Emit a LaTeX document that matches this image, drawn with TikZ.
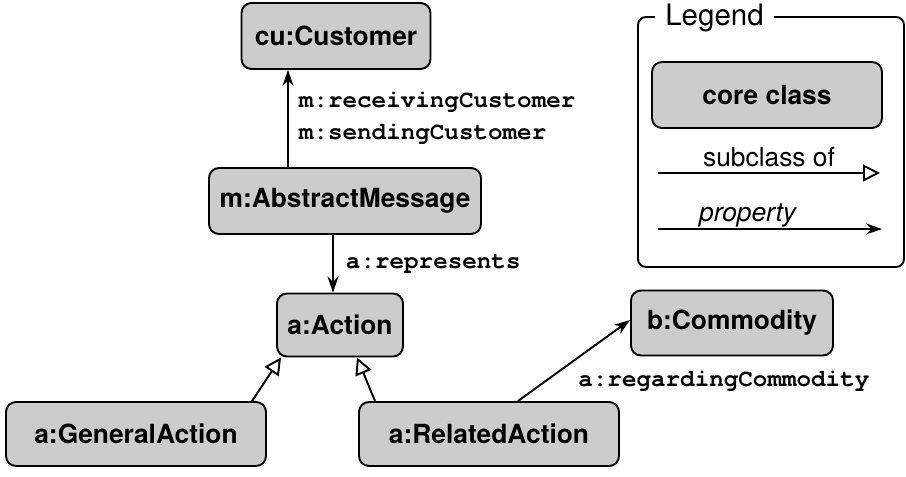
\documentclass[tikz,border=0pt]{standalone}
\usepackage{fontspec}
\setmainfont{TeX Gyre Heros}
\setmonofont{TeX Gyre Cursor}
\usetikzlibrary{arrows.meta,positioning,calc}
\definecolor{classgray}{RGB}{204,204,204}

\begin{document}
\begin{tikzpicture}[
    cls/.style={rectangle, draw=black, line width=1.1pt, rounded corners=0.2cm, fill=classgray, minimum height=1.32cm, font=\bfseries\fontsize{15}{18}\selectfont, align=center},
    plabel/.style={font=\ttfamily\bfseries\fontsize{13.8}{18.2}\selectfont, align=left, inner sep=0pt},
    prop/.style={-{Stealth[length=0.32cm, width=0.22cm]}, line width=1.1pt},
    subcl/.style={-{Triangle[open, length=0.34cm, width=0.34cm]}, line width=1.1pt},
    legtext/.style={font=\fontsize{15}{18}\selectfont, inner sep=0pt}
]
    \useasboundingbox (0,0) rectangle (18.12,9.54);

    % Classes
    \node[cls, minimum width=3.78cm] (cust) at (6.72,8.82) {cu:Customer};
    \node[cls, minimum width=5.44cm] (msg) at (6.90,5.52) {m:AbstractMessage};
    \node[cls, minimum width=2.52cm, minimum height=1.26cm] (act) at (6.80,3.04) {a:Action};
    \node[cls, minimum width=4.04cm, minimum height=1.30cm] (comm) at (14.64,3.08) {b:Commodity};
    \node[cls, minimum width=5.20cm, minimum height=1.28cm] (genact) at (2.72,0.86) {a:GeneralAction};
    \node[cls, minimum width=5.20cm, minimum height=1.28cm] (relact) at (9.78,0.86) {a:RelatedAction};

    % Properties
    \draw[prop] ([xshift=-1.14cm]msg.north) -- node[plabel, right=0.2cm] {m:receivingCustomer\\m:sendingCustomer} ([xshift=-1.14cm]msg.north |- cust.south);
    \draw[prop] ([xshift=-0.24cm]msg.south) -- node[plabel, right=0.24cm] {a:represents} ([xshift=-0.24cm]msg.south |- act.north);
    \draw[prop] ([xshift=0.58cm]relact.north) -- node[plabel, pos=0.45, below right=0.1cm and 0.18cm] {a:regardingCommodity} ([yshift=0.06cm]comm.west);

    % Subclasses
    \draw[subcl] ([xshift=2.32cm]genact.north) -- ([xshift=-1.18cm]act.south);
    \draw[subcl] ([xshift=-2.28cm]relact.north) -- ([xshift=0.34cm]act.south);

    % Legend
    \draw[line width=1.1pt, rounded corners=0.16cm] (12.76,4.20) rectangle (18.08,9.20);
    \node[legtext, font=\fontsize{16.8}{20}\selectfont, fill=white, inner xsep=0.2cm, inner ysep=0.1cm] (legtitle) at (14.29,9.18) {Legend};
    \node[cls, minimum width=4.60cm] (legcls) at (15.34,7.64) {core class};
    \coordinate (subA) at (13.16,6.08);
    \coordinate (subB) at (17.60,6.08);
    \coordinate (propA) at (13.16,4.96);
    \coordinate (propB) at (17.64,4.96);
    \draw[subcl] (subA) -- node[legtext, anchor=base, yshift=0.12cm] {subclass of} (subB);
    \draw[prop] (propA) -- node[legtext, pos=0.4, anchor=base, yshift=0.14cm] {\itshape property} (propB);
\end{tikzpicture}
\end{document}
